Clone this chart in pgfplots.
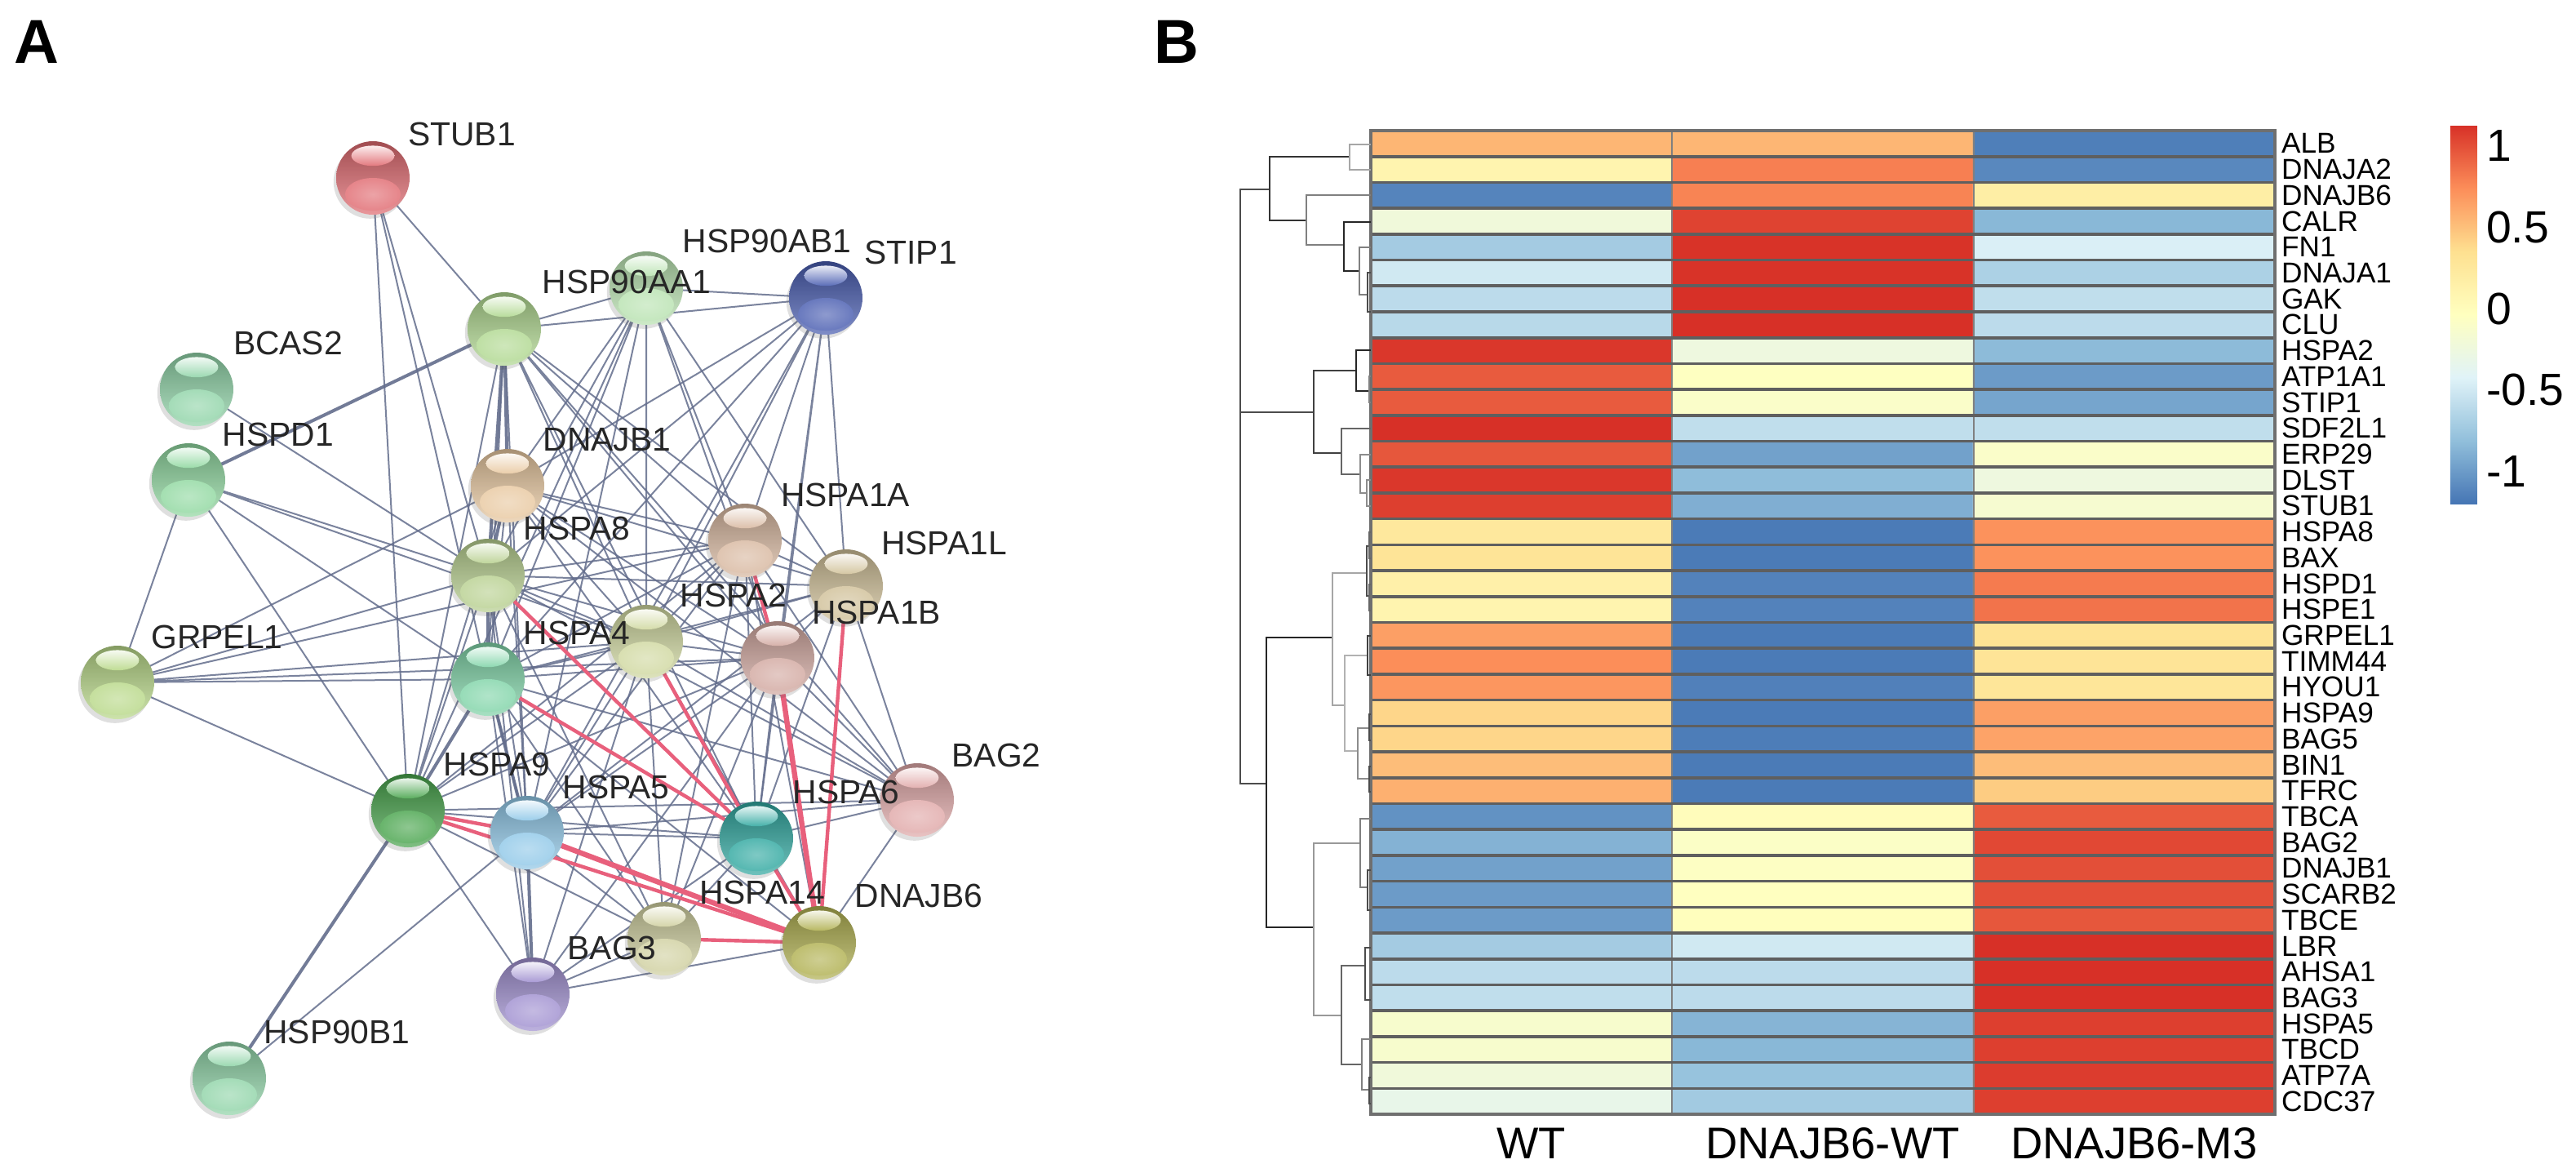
\documentclass[border=0pt]{standalone}
\usepackage{fontspec}
\setmainfont{Liberation Sans}
\usepackage{pgfplots}
\usepackage{pgfplotstable}
\pgfplotsset{compat=1.18}

% one reference pixel = 0.25bp
\definecolor{edgeblue}{HTML}{636D8C}
\definecolor{edgered}{HTML}{E8607C}
\definecolor{cellline}{HTML}{5F5F5F}
\definecolor{ballcol}{RGB}{128,128,128}

\pgfdeclareplotmark{sball}{%
  \fill[black!70, opacity=0.18, draw=none] (-0.8bp,-1.2bp) circle (11.25bp);
  \shade[draw=none, top color=ballcol!72!black, middle color=ballcol, bottom color=ballcol!70!white] (0,0) circle (11.25bp);
  \shade[draw=none, inner color=ballcol!62!white, outer color=ballcol!82!white] (0,-5bp) ellipse (8.5bp and 5bp);
  \shade[draw=none, top color=ballcol!12!white, bottom color=ballcol!90!white] (0,6.8bp) ellipse (6.6bp and 3.1bp);
}
\pgfplotsset{
  ballcolor/.code={\definecolor{ballcol}{RGB}{#1}},
  ball/.style={only marks, mark=sball, ballcolor={#1}},
  edge/.style={no markers, edgeblue, line width=0.5bp, opacity=0.85},
  edgeb/.style={no markers, edgeblue, line width=1.0bp, opacity=0.9},
  redge/.style={no markers, edgered, line width=#1},
  tree/.style={no markers, #1, line width=0.7bp},
}

\pgfplotstableread{
x y label
566 164 STUB1
940 295 HSP90AB1
1116 309 STIP1
768 345 HSP90AA1
353 420 BCAS2
341 532 HSPD1
744 539 DNAJB1
1036 606 HSPA1A
707 647 HSPA8
1157 665 HSPA1L
899 729 HSPA2
1074 750 HSPA1B
707 775 HSPA4
266 780 GRPEL1
1221 925 BAG2
609 936 HSPA9
755 964 HSPA5
1037 970 HSPA6
934 1093 HSPA14
1126 1097 DNAJB6
750 1161 BAG3
413 1264 HSP90B1
}\netlabels

\pgfplotstableread{
c r v
0 0 0.55
1 0 0.55
2 0 -1.15
0 1 0.10
1 1 0.80
2 1 -1.10
0 2 -1.12
1 2 0.78
2 2 0.18
0 3 -0.22
1 3 1.05
2 3 -0.85
0 4 -0.72
1 4 1.12
2 4 -0.45
0 5 -0.50
1 5 1.12
2 5 -0.68
0 6 -0.60
1 6 1.13
2 6 -0.58
0 7 -0.62
1 7 1.13
2 7 -0.60
0 8 1.10
1 8 -0.25
2 8 -0.83
0 9 0.95
1 9 -0.05
2 9 -1.00
0 10 0.95
1 10 -0.10
2 10 -0.95
0 11 1.14
1 11 -0.58
2 11 -0.58
0 12 0.97
1 12 -0.97
2 12 -0.10
0 13 1.10
1 13 -0.82
2 13 -0.25
0 14 1.07
1 14 -0.90
2 14 -0.15
0 15 0.25
1 15 -1.17
2 15 0.72
0 16 0.30
1 16 -1.17
2 16 0.72
0 17 0.15
1 17 -1.13
2 17 0.82
0 18 0.10
1 18 -1.13
2 18 0.85
0 19 0.66
1 19 -1.17
2 19 0.32
0 20 0.74
1 20 -1.17
2 20 0.30
0 21 0.70
1 21 -1.14
2 21 0.28
0 22 0.40
1 22 -1.17
2 22 0.66
0 23 0.40
1 23 -1.16
2 23 0.64
0 24 0.52
1 24 -1.17
2 24 0.52
0 25 0.58
1 25 -1.17
2 25 0.45
0 26 -1.05
1 26 0.00
2 26 0.95
0 27 -0.88
1 27 -0.08
2 27 1.03
0 28 -0.97
1 28 -0.06
2 28 1.00
0 29 -1.00
1 29 -0.04
2 29 1.00
0 30 -1.00
1 30 -0.02
2 30 0.97
0 31 -0.72
1 31 -0.50
2 31 1.13
0 32 -0.60
1 32 -0.60
2 32 1.14
0 33 -0.58
1 33 -0.60
2 33 1.14
0 34 -0.13
1 34 -0.87
2 34 1.07
0 35 -0.13
1 35 -0.85
2 35 1.07
0 36 -0.22
1 36 -0.78
2 36 1.08
0 37 -0.32
1 37 -0.73
2 37 1.07
}\heatdata

\begin{document}
\begin{tikzpicture}
\path[use as bounding box] (0,0) rectangle (789.25bp,-359.25bp);

% heatmap B
\begin{axis}[
  at={(420bp,-40bp)}, anchor=north west,
  scale only axis, width=277bp, height=301.25bp,
  xmin=-0.5, xmax=2.5, ymin=-0.5, ymax=37.5, y dir=reverse,
  xtick={0,1,2}, xticklabels={WT,DNAJB6-WT,DNAJB6-M3},
  ytick={0,...,37},
  yticklabels={ALB,DNAJA2,DNAJB6,CALR,FN1,DNAJA1,GAK,CLU,HSPA2,ATP1A1,STIP1,SDF2L1,ERP29,DLST,STUB1,HSPA8,BAX,HSPD1,HSPE1,GRPEL1,TIMM44,HYOU1,HSPA9,BAG5,BIN1,TFRC,TBCA,BAG2,DNAJB1,SCARB2,TBCE,LBR,AHSA1,BAG3,HSPA5,TBCD,ATP7A,CDC37},
  yticklabel pos=right,
  y tick label style={font=\fontsize{8.8bp}{9bp}\selectfont, xshift=-1.5bp},
  x tick label style={font=\fontsize{13.6bp}{14bp}\selectfont, xshift=3bp, yshift=-0.7bp},
  major tick length=0pt,
  axis line style={draw=cellline!90, line width=0.8bp},
  axis on top,
  minor xtick={0.5,1.5}, minor ytick={-0.5,0.5,...,37.5},
  xminorgrids, yminorgrids,
  minor x grid style={draw=black!50, line width=0.5bp},
  minor y grid style={draw=cellline, line width=0.9bp},
  minor tick length=0pt,
  colormap={rdylbu}{rgb255=(69,117,180) rgb255=(145,191,219) rgb255=(224,243,248) rgb255=(255,255,191) rgb255=(254,224,144) rgb255=(252,141,89) rgb255=(215,48,39)},
  point meta min=-1.2, point meta max=1.13,
  colorbar,
  colorbar style={
    at={(1.194,1.0058)}, anchor=north west,
    width=8.25bp, height=116bp,
    ytick={-1,-0.5,0,0.5,1}, yticklabels={-1,-0.5,0,0.5,1},
    yticklabel pos=right,
    major tick length=0pt,
    axis line style={draw=none},
    y tick label style={font=\fontsize{13.8bp}{14bp}\selectfont, xshift=-0.75bp},
  },
]
\addplot[matrix plot*, mesh/cols=3, mesh/ordering=x varies, point meta=\thisrow{v}] table[x=c, y=r] {\heatdata};
\end{axis}

% network A and dendrogram, in reference pixels
\begin{axis}[
  at={(0,0)}, anchor=north west,
  scale only axis, width=789.25bp, height=359.25bp,
  xmin=0, xmax=3157, ymin=0, ymax=1437, y dir=reverse,
  hide axis, clip=false,
]
% dendrogram
\addplot[tree=black!70] coordinates {(1556,232) (1520,232) (1520,960) (1552,960)};
\addplot[tree=black!70] coordinates {(1520,505) (1610,505)};
\addplot[tree=black!80] coordinates {(1654,192) (1556,192) (1556,270) (1601,270)};
\addplot[tree=black!35] coordinates {(1680,177) (1654,177) (1654,208) (1680,208)};
\addplot[tree=black!50] coordinates {(1680,239) (1601,239) (1601,300) (1647,300)};
\addplot[tree=black!85] coordinates {(1680,272) (1647,272) (1647,332) (1666,332)};
\addplot[tree=black!50] coordinates {(1680,303) (1666,303) (1666,361) (1676,361)};
\addplot[tree=black!70] coordinates {(1680,334) (1676,334) (1676,382) (1680,382)};
\addplot[tree=black!75] coordinates {(1662,454) (1610,454) (1610,555) (1644,555)};
\addplot[tree=black!85] coordinates {(1680,429) (1662,429) (1662,479) (1678,479)};
\addplot[tree=black!50] coordinates {(1680,461) (1678,461) (1678,493) (1680,493)};
\addplot[tree=black!60] coordinates {(1680,525) (1644,525) (1644,581) (1667,581)};
\addplot[tree=black!45] coordinates {(1680,557) (1667,557) (1667,604) (1675,604)};
\addplot[tree=black!45] coordinates {(1680,588) (1675,588) (1675,620) (1680,620)};
\addplot[tree=black!85] coordinates {(1633,781) (1552,781) (1552,1136) (1610,1136)};
\addplot[tree=black!35] coordinates {(1675,702) (1633,702) (1633,864) (1648,864)};
\addplot[tree=black!70] coordinates {(1678,669) (1675,669) (1675,730) (1678,730)};
\addplot[tree=black!60] coordinates {(1680,652) (1678,652) (1678,684) (1680,684)};
\addplot[tree=black!60] coordinates {(1680,716) (1678,716) (1678,748) (1680,748)};
\addplot[tree=black!30] coordinates {(1676,803) (1648,803) (1648,920) (1664,920)};
\addplot[tree=black!75] coordinates {(1680,779) (1676,779) (1676,827) (1680,827)};
\addplot[tree=black!45] coordinates {(1678,892) (1664,892) (1664,954) (1678,954)};
\addplot[tree=black!70] coordinates {(1680,875) (1678,875) (1678,907) (1680,907)};
\addplot[tree=black!70] coordinates {(1680,939) (1678,939) (1678,970) (1680,970)};
\addplot[tree=black!40] coordinates {(1667,1033) (1610,1033) (1610,1244) (1644,1244)};
\addplot[tree=black!50] coordinates {(1680,1003) (1667,1003) (1667,1087) (1676,1087)};
\addplot[tree=black!70] coordinates {(1680,1066) (1676,1066) (1676,1115) (1680,1115)};
\addplot[tree=black!60] coordinates {(1673,1183) (1644,1183) (1644,1304) (1669,1304)};
\addplot[tree=black!70] coordinates {(1680,1161) (1673,1161) (1673,1225) (1680,1225)};
\addplot[tree=black!50] coordinates {(1680,1273) (1669,1273) (1669,1335) (1678,1335)};
\addplot[tree=black!70] coordinates {(1680,1320) (1678,1320) (1678,1352) (1680,1352)};

% network edges: each list goes out from one hub and back
\addplot[edge] coordinates {(1012,365) (792,353) (1012,365) (618,403) (1012,365) (622,595) (1012,365) (913,662) (1012,365) (1037,718) (1012,365) (953,806) (1012,365) (792,786) (1012,365) (598,705) (1012,365) (598,832) (1012,365) (646,1020) (1012,365) (927,1027)};
\addplot[edge] coordinates {(792,353) (618,403) (792,353) (622,595) (792,353) (598,705) (792,353) (598,832) (792,353) (792,786) (792,353) (913,662) (792,353) (953,806) (792,353) (1037,718) (792,353) (500,993) (792,353) (646,1020)};
\addplot[edge] coordinates {(618,403) (792,786) (618,403) (913,662) (618,403) (1037,718) (618,403) (953,806) (618,403) (646,1020) (618,403) (500,993) (618,403) (927,1027) (618,403) (1124,980) (618,403) (598,832)};
\addplot[edge] coordinates {(457,218) (618,403) (457,218) (598,705) (457,218) (598,832) (457,218) (500,993)};
\addplot[edge] coordinates {(241,477) (598,705)};
\addplot[edge] coordinates {(231,588) (144,836) (231,588) (598,832) (231,588) (598,705) (231,588) (500,993) (231,588) (792,786)};
\addplot[edge] coordinates {(144,836) (622,595) (144,836) (598,705) (144,836) (598,832) (144,836) (792,786) (144,836) (953,806) (144,836) (500,993) (144,836) (913,662)};
\addplot[edge] coordinates {(500,993) (598,705) (500,993) (646,1020) (500,993) (622,595) (500,993) (653,1218) (500,993) (927,1027) (500,993) (1124,980) (500,993) (792,786) (500,993) (913,662) (500,993) (953,806) (500,993) (814,1150)};
\addplot[edge] coordinates {(281,1321) (646,1020)};
\addplot[edge] coordinates {(622,595) (598,832) (622,595) (913,662) (622,595) (1037,718) (622,595) (792,786) (622,595) (953,806) (622,595) (927,1027) (622,595) (1124,980) (622,595) (646,1020)};
\addplot[edge] coordinates {(598,705) (913,662) (598,705) (1037,718) (598,705) (792,786) (598,705) (953,806) (598,705) (646,1020) (598,705) (1124,980) (598,705) (814,1150) (598,705) (653,1218)};
\addplot[edge] coordinates {(598,832) (792,786) (598,832) (913,662) (598,832) (1037,718) (598,832) (953,806) (598,832) (646,1020) (598,832) (1124,980) (598,832) (814,1150) (598,832) (653,1218) (598,832) (1004,1155)};
\addplot[edge] coordinates {(792,786) (913,662) (792,786) (1037,718) (792,786) (953,806) (792,786) (646,1020) (792,786) (1124,980) (792,786) (814,1150) (792,786) (1004,1155) (792,786) (653,1218)};
\addplot[edge] coordinates {(913,662) (1037,718) (913,662) (646,1020) (913,662) (927,1027) (913,662) (1124,980) (913,662) (1004,1155) (913,662) (814,1150)};
\addplot[edge] coordinates {(1037,718) (953,806) (1037,718) (646,1020) (1037,718) (927,1027) (1037,718) (1124,980)};
\addplot[edge] coordinates {(953,806) (646,1020) (953,806) (927,1027) (953,806) (1124,980) (953,806) (814,1150) (953,806) (653,1218)};
\addplot[edge] coordinates {(646,1020) (927,1027) (646,1020) (814,1150) (646,1020) (1124,980)};
\addplot[edge] coordinates {(927,1027) (1124,980) (927,1027) (653,1218) (927,1027) (814,1150)};
\addplot[edge] coordinates {(653,1218) (814,1150) (653,1218) (1004,1155)};
\addplot[edge] coordinates {(1004,1155) (1124,980)};
% heavier blue edges
\addplot[edgeb] coordinates {(618,403) (622,595)};
\addplot[edgeb] coordinates {(618,403) (598,705)};
\addplot[edgeb] coordinates {(598,705) (598,832)};
\addplot[edgeb] coordinates {(618,403) (231,588)};
\addplot[edgeb] coordinates {(622,595) (598,705)};
\addplot[edgeb] coordinates {(500,993) (281,1321)};
\addplot[edgeb] coordinates {(500,993) (598,832)};
\addplot[edgeb] coordinates {(646,1020) (653,1218)};
\addplot[edgeb] coordinates {(598,832) (646,1020)};
% red edges
\addplot[redge=1.1bp] coordinates {(598,705) (927,1027)};
\addplot[redge=1.1bp] coordinates {(792,786) (927,1027)};
\addplot[redge=1.1bp] coordinates {(598,832) (927,1027)};
\addplot[redge=1.6bp] coordinates {(953,806) (1004,1155)};
\addplot[redge=1.1bp] coordinates {(1037,718) (1004,1155)};
\addplot[redge=1.1bp] coordinates {(500,993) (1004,1155)};
\addplot[redge=1.6bp] coordinates {(646,1020) (1004,1155)};
\addplot[redge=1.1bp] coordinates {(814,1150) (1004,1155)};
\addplot[redge=1.1bp] coordinates {(913,662) (953,806)};
\addplot[redge=1.1bp] coordinates {(927,1027) (1004,1155)};
\addplot[redge=1.1bp] coordinates {(500,993) (646,1020)};

% spheres
\addplot[ball={224,106,112}] coordinates {(457,218)};
\addplot[ball={72,92,176}] coordinates {(1012,365)};
\addplot[ball={184,226,176}] coordinates {(792,353)};
\addplot[ball={176,216,144}] coordinates {(618,403)};
\addplot[ball={144,212,168}] coordinates {(241,477)};
\addplot[ball={144,216,160}] coordinates {(231,588)};
\addplot[ball={232,200,160}] coordinates {(622,595)};
\addplot[ball={216,184,160}] coordinates {(913,662)};
\addplot[ball={208,192,152}] coordinates {(1037,718)};
\addplot[ball={184,208,144}] coordinates {(598,705)};
\addplot[ball={208,216,160}] coordinates {(792,786)};
\addplot[ball={210,168,160}] coordinates {(953,806)};
\addplot[ball={128,212,168}] coordinates {(598,832)};
\addplot[ball={184,216,136}] coordinates {(144,836)};
\addplot[ball={72,164,76}] coordinates {(500,993)};
\addplot[ball={144,200,232}] coordinates {(646,1020)};
\addplot[ball={48,168,160}] coordinates {(927,1027)};
\addplot[ball={208,208,160}] coordinates {(814,1150)};
\addplot[ball={176,176,80}] coordinates {(1004,1155)};
\addplot[ball={160,144,208}] coordinates {(653,1218)};
\addplot[ball={224,168,168}] coordinates {(1124,980)};
\addplot[ball={144,212,168}] coordinates {(281,1321)};

% sphere names and panel letters
\addplot[only marks, mark=none, nodes near coords, point meta=explicit symbolic,
  nodes near coords style={anchor=center, inner sep=0pt, text=black!85, font=\fontsize{10.2bp}{11bp}\selectfont}]
  table[x=x, y=y, meta=label] {\netlabels};
\node[font=\fontsize{19bp}{20bp}\selectfont\bfseries, inner sep=0pt] at (axis cs:45,51) {A};
\node[font=\fontsize{19bp}{20bp}\selectfont\bfseries, inner sep=0pt] at (axis cs:1442,51) {B};
\end{axis}
\end{tikzpicture}
\end{document}
